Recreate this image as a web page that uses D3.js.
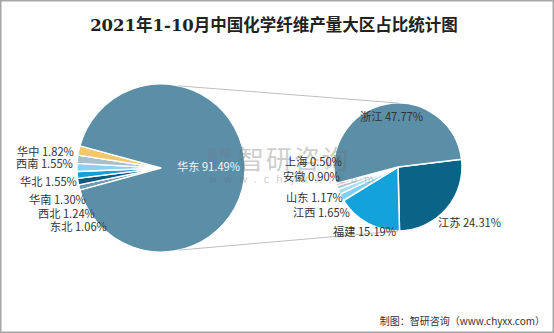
<!DOCTYPE html>
<html><head><meta charset="utf-8">
<script src="https://cdn.jsdelivr.net/npm/d3@7/dist/d3.min.js"></script>
<style>html,body{margin:0;padding:0;background:#fff;}svg{display:block;}</style>
</head><body>
<script>
// Data
const title = "2021年1-10月中国化学纤维产量大区占比统计图";
const source = "制图：智研咨询（www.chyxx.com）";
// main pie (region shares, %), listed bottom-to-top on the left side, then 华东
const regionNames  = ["东北", "西北", "华南", "华北", "西南", "华中", "华东"];
const regionValues = [1.06, 1.24, 1.30, 1.55, 1.55, 1.82, 91.49];
const regionColors = ["#6b9ab4", "#0c5a80", "#1a9ed6", "#8dd0ef", "#a8bfce", "#f3c76c", "#5b8fa8"];
// secondary pie: 华东 breakdown (share of national total, %)
const provNames  = ["江苏", "福建", "江西", "山东", "安徽", "上海", "浙江"];
const provValues = [24.31, 15.19, 1.65, 1.17, 0.90, 0.50, 47.77];
const provColors = ["#0c6388", "#14a2da", "#7fcff0", "#a6dbf0", "#b3c5cf", "#e8907f", "#5b8fa8"];

const W = 554, H = 333;
const svg = d3.select("body").append("svg").attr("width", W).attr("height", H);
svg.append("rect").attr("x", 0.75).attr("y", 0.75).attr("width", W - 1.5).attr("height", H - 1.5)
  .attr("fill", "#fff").attr("stroke", "#a6a6a6").attr("stroke-width", 1.5);

const font = "'Noto Sans CJK SC', 'Noto Sans', sans-serif";

svg.append("text").attr("x", 274).attr("y", 31).attr("text-anchor", "middle")
  .attr("font-family", "'DejaVu Serif', 'Noto Sans CJK SC', serif").attr("font-weight", "bold")
  .attr("font-size", 16.5).attr("fill", "#222").text(title);

// Main pie
const c1 = {x: 161, y: 168, r: 84};
const otherTotal = d3.sum(regionValues.slice(0, 6));
const totalR = d3.sum(regionValues);
const half = otherTotal / totalR * Math.PI;
const pie1 = d3.pie().sort(null).value(d => d)
  .startAngle(1.5 * Math.PI - half).endAngle(1.5 * Math.PI - half + 2 * Math.PI);
const arcs1 = pie1(regionValues);
const arc1 = d3.arc().innerRadius(0).outerRadius(c1.r);
const g1 = svg.append("g").attr("transform", `translate(${c1.x},${c1.y})`);
g1.selectAll("path").data(arcs1).join("path")
  .attr("d", arc1).attr("fill", (d, i) => regionColors[i])
  .attr("stroke", "#fff").attr("stroke-width", 1.3).attr("stroke-linejoin", "round");

// Secondary pie
const c2 = {x: 398, y: 167, r: 64};
const startA = 83 / 180 * Math.PI;
const pie2 = d3.pie().sort(null).value(d => d).startAngle(startA).endAngle(startA + 2 * Math.PI);
const arcs2 = pie2(provValues);
const arc2 = d3.arc().innerRadius(0).outerRadius(c2.r);
const g2 = svg.append("g").attr("transform", `translate(${c2.x},${c2.y})`);
g2.selectAll("path").data(arcs2).join("path")
  .attr("d", arc2).attr("fill", (d, i) => provColors[i])
  .attr("stroke", "#fff").attr("stroke-width", 1.5).attr("stroke-linejoin", "round");

// connector lines
const a1t = 12 / 180 * Math.PI, a1b = 168 / 180 * Math.PI;
const pt = (c, a) => [c.x + c.r * Math.sin(a), c.y - c.r * Math.cos(a)];
const lines = [[pt(c1, a1t), pt(c2, 0)], [pt(c1, a1b), pt(c2, Math.PI)]];
svg.selectAll("line.conn").data(lines).join("line").attr("class", "conn")
  .attr("x1", d => d[0][0]).attr("y1", d => d[0][1])
  .attr("x2", d => d[1][0]).attr("y2", d => d[1][1])
  .attr("stroke", "#bfbfbf").attr("stroke-width", 1);

// Watermark
const wm = svg.append("g").attr("opacity", 0.33);
wm.append("rect").attr("x", 208).attr("y", 148).attr("width", 9).attr("height", 20).attr("fill", "#6d7f95");
wm.append("rect").attr("x", 219).attr("y", 148).attr("width", 12).attr("height", 9).attr("fill", "#6d7f95");
wm.append("rect").attr("x", 219).attr("y", 160).attr("width", 12).attr("height", 8).attr("fill", "#6d7f95");
wm.append("text").attr("x", 238).attr("y", 169).attr("font-family", font).attr("font-size", 26)
  .attr("fill", "#6b6b6b").attr("letter-spacing", 2).text("智研咨询");
wm.append("text").attr("x", 209).attr("y", 183).attr("font-family", "'DejaVu Sans', sans-serif").attr("font-size", 10)
  .attr("fill", "#6b6b6b").attr("letter-spacing", 7).text("www.chyxx.com");

// Labels
const lab1 = [
  {i: 5, x: 17, y: 152}, {i: 4, x: 16, y: 164}, {i: 3, x: 20, y: 182},
  {i: 2, x: 29, y: 200}, {i: 1, x: 38, y: 214}, {i: 0, x: 50, y: 227}
];
const labelFont = 11.2;
svg.selectAll("text.l1").data(lab1).join("text").attr("class", "l1")
  .attr("x", d => d.x).attr("y", d => d.y).attr("dy", "0.35em")
  .attr("font-family", font).attr("font-size", labelFont).attr("fill", "#333")
  .text(d => `${regionNames[d.i]} ${regionValues[d.i].toFixed(2)}%`);
svg.append("text").attr("x", 177).attr("y", 167).attr("dy", "0.35em")
  .attr("font-family", font).attr("font-size", labelFont).attr("fill", "#f2f6f8")
  .text(`${regionNames[6]} ${regionValues[6].toFixed(2)}%`);

const lab2 = [
  {i: 6, x: 360, y: 117}, {i: 5, x: 285, y: 162}, {i: 4, x: 283, y: 177},
  {i: 3, x: 286, y: 198}, {i: 2, x: 293, y: 213}, {i: 1, x: 333, y: 232}, {i: 0, x: 438, y: 223}
];
svg.selectAll("text.l2").data(lab2).join("text").attr("class", "l2")
  .attr("x", d => d.x).attr("y", d => d.y).attr("dy", "0.35em")
  .attr("font-family", font).attr("font-size", labelFont).attr("fill", "#333")
  .text(d => `${provNames[d.i]} ${provValues[d.i].toFixed(2)}%`);

svg.append("text").attr("x", 545).attr("y", 321).attr("dy", "0.35em").attr("text-anchor", "end")
  .attr("font-family", font).attr("font-size", 10).attr("fill", "#333").text(source);
</script>
</body></html>
